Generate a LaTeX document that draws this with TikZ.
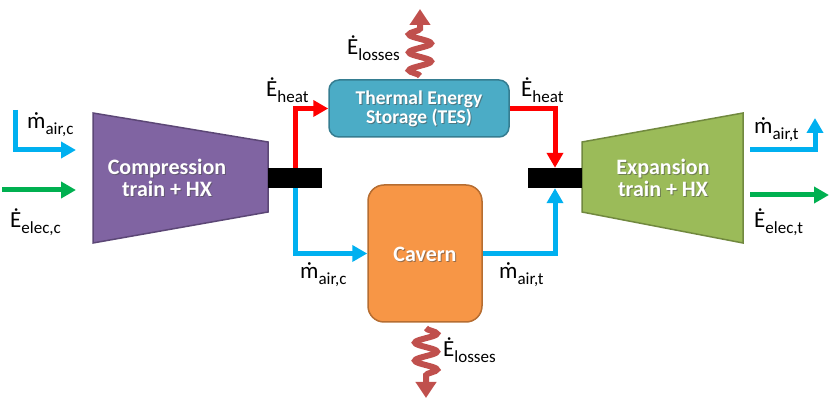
\documentclass[tikz,border=0pt]{standalone}
\usepackage{fontspec}
\setmainfont{Carlito}
\usetikzlibrary{arrows.meta,decorations.pathmorphing}
\definecolor{cpurple}{HTML}{8064A2}
\definecolor{cpurpled}{HTML}{5C4776}
\definecolor{cgreen}{HTML}{9BBB59}
\definecolor{cgreend}{HTML}{71893F}
\definecolor{cteal}{HTML}{4BACC6}
\definecolor{cteald}{HTML}{357D91}
\definecolor{corange}{HTML}{F79646}
\definecolor{coranged}{HTML}{B66D31}
\definecolor{cblue}{HTML}{00B0F0}
\definecolor{cgr}{HTML}{00B050}
\definecolor{cred}{HTML}{FF0000}
\definecolor{closs}{HTML}{C0504D}
\newcommand\lbl[2]{#1\raisebox{-0.55ex}{\fontsize{17}{17}\selectfont #2}}
\tikzset{
  x=1pt,y=-1pt,
  flow/.style={line width=5pt,-{Triangle[length=15pt,width=16pt]}},
  bar/.style={fill=black,draw=none,minimum width=54pt,minimum height=20pt,inner sep=0pt},
  boxtxt/.style={text=white,font=\bfseries\fontsize{22}{24}\selectfont,align=center},
  shadowtxt/.style={text=black!70,opacity=0.55},
  lab/.style={font=\fontsize{23}{24}\selectfont,inner sep=0pt},
  loss/.style={closs,line width=6pt,decorate,decoration={snake,amplitude=11pt,segment length=18pt,post length=16pt}},
}
\begin{document}
\begin{tikzpicture}
\useasboundingbox (0,0) rectangle (831,403);
% trapezoids
\draw[fill=cpurple,draw=cpurpled,line width=1.5pt] (93,113) -- (268,142) -- (268,212) -- (93,243) -- cycle;
\draw[fill=cgreen,draw=cgreend,line width=1.5pt] (582,142) -- (743,113) -- (743,243) -- (582,212) -- cycle;
\node[boxtxt,shadowtxt] at (168,179) {Compression\\[-2pt]train + HX};
\node[boxtxt] (comp) at (167,178) {Compression\\[-2pt]train + HX};
\node[boxtxt,shadowtxt] at (664,179) {Expansion\\[-2pt]train + HX};
\node[boxtxt] (exp) at (663,178) {Expansion\\[-2pt]train + HX};
% boxes
\node[draw=cteald,fill=cteal,line width=1.5pt,rounded corners=10pt,minimum width=180pt,minimum height=57pt] (tes) at (419,108.5) {};
\node[boxtxt,shadowtxt,font=\bfseries\fontsize{19.5}{21}\selectfont] at (420,110) {Thermal Energy\\[-2pt]Storage (TES)};
\node[boxtxt,font=\bfseries\fontsize{19.5}{21}\selectfont] at (419,109) {Thermal Energy\\[-2pt]Storage (TES)};
\node[draw=coranged,fill=corange,line width=1.5pt,rounded corners=16pt,minimum width=114pt,minimum height=137pt] (cav) at (425,253.5) {};
\node[boxtxt,shadowtxt] at (426,255) {Cavern};
\node[boxtxt] at (425,254) {Cavern};
% bars
\node[bar] (lbar) at (295,178) {};
\node[bar] (rbar) at (555,178) {};
% internal flows
\draw[flow,cred] (lbar.north) |- (tes.west);
\draw[flow,cred] (tes.east) -| (rbar.north);
\draw[flow,cblue] (lbar.south) |- (cav.west);
\draw[flow,cblue] (cav.east) -| (rbar.south);
% external flows
\coordinate (ain) at (15,110);
\coordinate (ein) at (2,190);
\coordinate (aout) at (815,118);
\coordinate (eout) at (829,195);
\draw[flow,cblue] (ain) |- (76,150);
\draw[flow,cgr] (ein) -- (76,190);
\draw[flow,cblue] (750,150) -| (aout);
\draw[flow,cgr] (750,195) -- (eout);
% losses
\coordinate (lt0) at (420,76);
\coordinate (lt1) at (420,9);
\coordinate (lb0) at (426,328);
\coordinate (lb1) at (426,398);
\draw[loss,-{Triangle[length=16pt,width=20pt]}] (lt0) -- (lt1);
\draw[loss,-{Triangle[length=16pt,width=20pt]}] (lb0) -- (lb1);
% labels
\node[lab,anchor=west] at (27,125) {\lbl{ṁ}{air,c}};
\node[lab,anchor=west] at (10,222) {\lbl{Ė}{elec,c}};
\node[lab,anchor=west] at (266,90) {\lbl{Ė}{heat}};
\node[lab,anchor=west] at (521,90) {\lbl{Ė}{heat}};
\node[lab,anchor=west] at (300,275) {\lbl{ṁ}{air,c}};
\node[lab,anchor=west] at (499,275) {\lbl{ṁ}{air,t}};
\node[lab,anchor=west] at (754,130) {\lbl{ṁ}{air,t}};
\node[lab,anchor=west] at (754,222) {\lbl{Ė}{elec,t}};
\node[lab,anchor=west] at (347,48) {\lbl{Ė}{losses}};
\node[lab,anchor=west] at (443,350) {\lbl{Ė}{losses}};
\end{tikzpicture}
\end{document}
